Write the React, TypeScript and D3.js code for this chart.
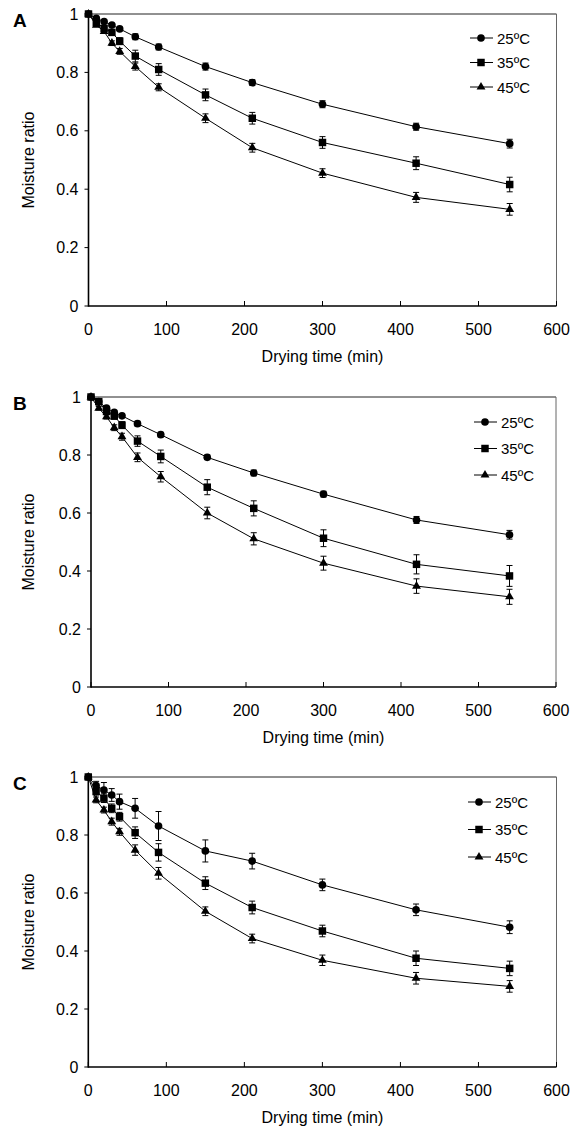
import React from "react";
import * as d3 from "d3";

const times = [0, 10, 20, 30, 40, 60, 90, 150, 210, 300, 420, 540];
const seriesNames = ["25ºC", "35ºC", "45ºC"];
const panelLabels = ["A", "B", "C"];
const xTicks = [0, 100, 200, 300, 400, 500, 600];
const yTicks = [0, 0.2, 0.4, 0.6, 0.8, 1];

const a25 = [1, 0.985, 0.974, 0.962, 0.949, 0.922, 0.887, 0.82, 0.765, 0.691, 0.614, 0.556];
const a35 = [1, 0.971, 0.951, 0.937, 0.907, 0.856, 0.81, 0.723, 0.643, 0.56, 0.489, 0.416];
const a45 = [1, 0.962, 0.94, 0.9, 0.872, 0.82, 0.749, 0.643, 0.542, 0.455, 0.372, 0.331];
const a25err = [0, 0.005, 0.005, 0.005, 0.006, 0.01, 0.01, 0.012, 0.01, 0.012, 0.012, 0.015];
const a35err = [0, 0.008, 0.008, 0.01, 0.012, 0.02, 0.02, 0.02, 0.02, 0.02, 0.022, 0.025];
const a45err = [0, 0.005, 0.006, 0.008, 0.01, 0.012, 0.012, 0.015, 0.015, 0.015, 0.017, 0.02];

const b25 = [1, 0.984, 0.962, 0.947, 0.935, 0.908, 0.87, 0.792, 0.738, 0.665, 0.576, 0.525];
const b35 = [1, 0.984, 0.95, 0.934, 0.903, 0.848, 0.795, 0.689, 0.616, 0.513, 0.423, 0.383];
const b45 = [1, 0.961, 0.932, 0.894, 0.863, 0.792, 0.725, 0.6, 0.511, 0.427, 0.348, 0.311];
const b25err = [0, 0.005, 0.005, 0.006, 0.006, 0.008, 0.008, 0.008, 0.01, 0.01, 0.012, 0.015];
const b35err = [0, 0.006, 0.008, 0.01, 0.012, 0.018, 0.022, 0.026, 0.026, 0.029, 0.033, 0.036];
const b45err = [0, 0.006, 0.008, 0.01, 0.012, 0.015, 0.018, 0.02, 0.021, 0.024, 0.025, 0.026];

const c25 = [1, 0.97, 0.955, 0.938, 0.915, 0.892, 0.831, 0.745, 0.71, 0.628, 0.542, 0.482];
const c35 = [1, 0.95, 0.927, 0.892, 0.863, 0.808, 0.74, 0.634, 0.55, 0.469, 0.375, 0.34];
const c45 = [1, 0.921, 0.886, 0.846, 0.811, 0.748, 0.668, 0.537, 0.443, 0.368, 0.306, 0.278];
const c25err = [0, 0.015, 0.026, 0.022, 0.026, 0.034, 0.05, 0.038, 0.027, 0.02, 0.02, 0.022];
const c35err = [0, 0.012, 0.015, 0.015, 0.015, 0.02, 0.03, 0.022, 0.022, 0.02, 0.025, 0.025];
const c45err = [0, 0.01, 0.01, 0.012, 0.012, 0.018, 0.02, 0.015, 0.015, 0.018, 0.02, 0.02];

const panelData = [
  { values: [a25, a35, a45], errors: [a25err, a35err, a45err] },
  { values: [b25, b35, b45], errors: [b25err, b35err, b45err] },
  { values: [c25, c35, c45], errors: [c25err, c35err, c45err] },
];

// layout (pixel geometry)
const layouts = [
  { left: 88.5, right: 556.5, top: 14, bottom: 306, legX: 470, legY: 38, legStep: 24.5 },
  { left: 91, right: 556, top: 397, bottom: 687, legX: 474, legY: 422, legStep: 26.5 },
  { left: 88.3, right: 556.5, top: 777, bottom: 1067, legX: 468, legY: 802, legStep: 27.5 },
];

const FONT = "'Liberation Sans', Arial, sans-serif";
const symbols = [d3.symbolCircle, d3.symbolSquare, d3.symbolTriangle];
const symbolSizes = [46, 56, 34];

function Panel({ idx }: { idx: number }) {
  const L = layouts[idx];
  const D = panelData[idx];
  const x = d3.scaleLinear().domain([0, 600]).range([L.left, L.right]);
  const y = d3.scaleLinear().domain([0, 1]).range([L.bottom, L.top]);
  const line = d3
    .line<number>()
    .x((_, i) => x(times[i]))
    .y((v) => y(v));
  const sym = (k: number) => d3.symbol().type(symbols[k]).size(symbolSizes[k])() as string;
  const midY = (L.top + L.bottom) / 2;
  const midX = (L.left + L.right) / 2;
  return (
    <g>
      {/* frame */}
      <line x1={L.left} x2={L.right} y1={L.top} y2={L.top} stroke="#222" strokeWidth={1} />
      <line x1={L.right} x2={L.right} y1={L.top} y2={L.bottom} stroke="#666" strokeWidth={1} />
      {/* y ticks */}
      {yTicks.map((t) => (
        <g key={"y" + t}>
          <line x1={L.left - 4} x2={L.left} y1={y(t)} y2={y(t)} stroke="#000" strokeWidth={1} />
          <text
            x={L.left - 10}
            y={y(t) + 5.5}
            textAnchor="end"
            fontFamily={FONT}
            fontSize={16}
            fill="#000"
          >
            {d3.format("~g")(t)}
          </text>
        </g>
      ))}
      {/* x ticks */}
      {xTicks.map((t) => (
        <g key={"x" + t}>
          <line x1={x(t)} x2={x(t)} y1={L.bottom} y2={L.bottom - 5} stroke="#000" strokeWidth={1} />
          <text
            x={x(t)}
            y={L.bottom + 28.5}
            textAnchor="middle"
            fontFamily={FONT}
            fontSize={16}
            fill="#000"
          >
            {t}
          </text>
        </g>
      ))}
      {/* axes */}
      <line x1={L.left} x2={L.left} y1={L.top} y2={L.bottom + 0.75} stroke="#000" strokeWidth={1.6} />
      <line x1={L.left} x2={L.right} y1={L.bottom} y2={L.bottom} stroke="#000" strokeWidth={1.6} />
      {/* titles */}
      <text
        transform={`translate(${34},${midY}) rotate(-90)`}
        textAnchor="middle"
        fontFamily={FONT}
        fontSize={16}
        fill="#000"
      >
        Moisture ratio
      </text>
      <text x={midX} y={L.bottom + 56} textAnchor="middle" fontFamily={FONT} fontSize={16} fill="#000">
        Drying time (min)
      </text>
      <text x={13} y={L.top + 13} fontFamily={FONT} fontSize={19} fontWeight="bold" fill="#000">
        {panelLabels[idx]}
      </text>
      {/* series lines */}
      {D.values.map((vals, k) => (
        <path key={"l" + k} d={line(vals) as string} fill="none" stroke="#000" strokeWidth={1} />
      ))}
      {/* error bars */}
      {D.values.map((vals, k) =>
        vals.map((v, i) => {
          const e = D.errors[k][i];
          if (!e) return null;
          const cx = x(times[i]);
          const y1 = y(v - e);
          const y2 = y(v + e);
          return (
            <g key={"e" + k + "-" + i} stroke="#000" strokeWidth={1}>
              <line x1={cx} x2={cx} y1={y1} y2={y2} />
              <line x1={cx - 3} x2={cx + 3} y1={y1} y2={y1} />
              <line x1={cx - 3} x2={cx + 3} y1={y2} y2={y2} />
            </g>
          );
        })
      )}
      {/* markers */}
      {D.values.map((vals, k) =>
        vals.map((v, i) => (
          <path
            key={"m" + k + "-" + i}
            d={sym(k)}
            transform={`translate(${x(times[i])},${y(v)})`}
            fill="#000"
          />
        ))
      )}
      {/* legend */}
      {seriesNames.map((name, k) => {
        const ly = L.legY + k * L.legStep;
        return (
          <g key={"lg" + k}>
            <line x1={L.legX} x2={L.legX + 23} y1={ly} y2={ly} stroke="#000" strokeWidth={1} />
            <path d={sym(k)} transform={`translate(${L.legX + 11},${ly})`} fill="#000" />
            <text x={L.legX + 27} y={ly + 5.5} fontFamily={FONT} fontSize={15} fill="#000">
              {name}
            </text>
          </g>
        );
      })}
    </g>
  );
}

export default function App() {
  return (
    <svg
      width={581}
      height={1131}
      style={{ position: "absolute", left: 0, top: 0, background: "#fff" }}
    >
      <rect width={581} height={1131} fill="#fff" />
      {panelLabels.map((_, i) => (
        <Panel key={i} idx={i} />
      ))}
    </svg>
  );
}
